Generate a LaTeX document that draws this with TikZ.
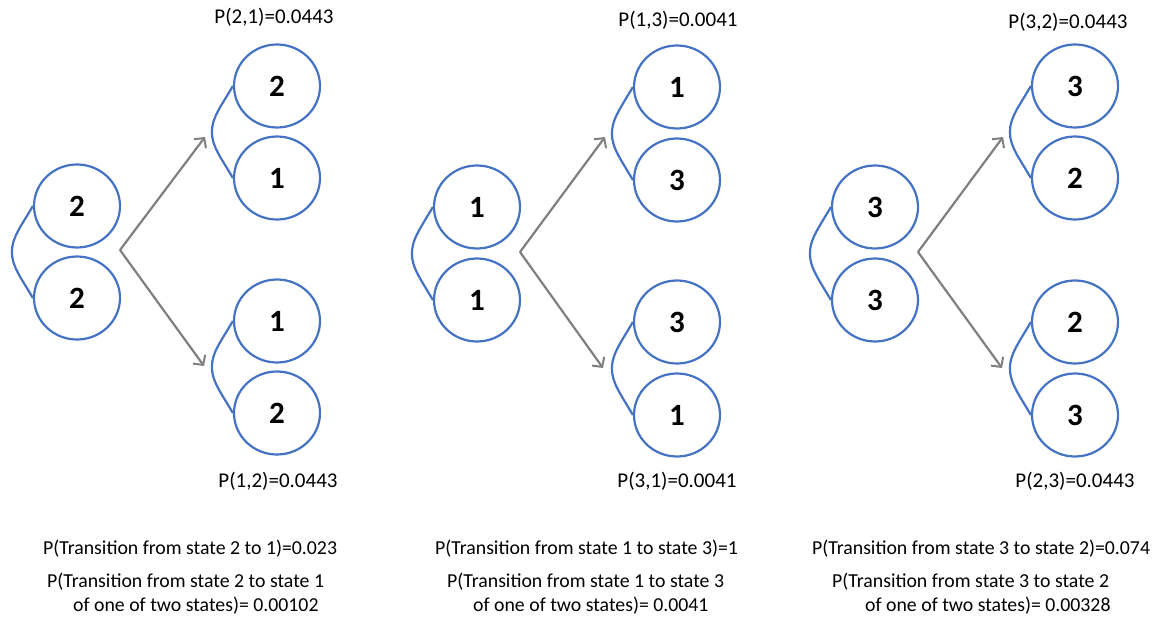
\documentclass[tikz,border=0pt]{standalone}
\usepackage{fontspec}
\setmainfont{Carlito}
\usetikzlibrary{shapes.geometric,arrows.meta,calc}
\definecolor{stateblue}{HTML}{4472C4}
\definecolor{arrowgray}{HTML}{7F7F7F}
\tikzset{
  state/.style={ellipse, draw=stateblue, line width=2.2pt, minimum width=86pt,
    minimum height=83pt, inner sep=0pt, font=\fontsize{31}{34}\selectfont\bfseries},
  bracket/.style={draw=stateblue, line width=2.2pt},
  trans/.style={draw=arrowgray, line width=2.2pt,
    -{Straight Barb[length=7pt,width=15pt,line width=2pt]}},
  prob/.style={font=\fontsize{21}{25}\selectfont, inner sep=0pt},
  note/.style={font=\fontsize{19.8}{24}\selectfont, inner sep=0pt, anchor=west}
}
% two stacked states joined on the left by a curved bracket
\newcommand{\statepair}[6]{%
  \node[state] (#1a) at (#2,#3) {#5};
  \node[state] (#1b) at (#2,#4) {#6};
  \coordinate (#1m) at ($(#1a.west)!0.5!(#1b.west)+(-21,0)$);
  \draw[bracket] (#1a.west) .. controls +(-13,22) and +(0,-14) .. (#1m)
    .. controls +(0,14) and +(-13,-22) .. (#1b.west);
}
\begin{document}
\begin{tikzpicture}[x=1pt,y=-1pt]
\useasboundingbox (0,0) rectangle (1158,623);

% ---- state 2 ----
\statepair{Aleft}{77}{206}{298}{2}{2}
\statepair{Aup}{277}{86}{178}{2}{1}
\statepair{Adown}{277}{321}{413}{1}{2}
\coordinate (Av) at (120,250);
\coordinate (Aut) at (205,137);
\coordinate (Adt) at (204,366);
\draw[trans] (Av) -- (Aut);
\draw[trans] (Av) -- (Adt);
\node[prob] (Aptop) at (274,17) {P(2,1)=0.0443};
\node[prob] (Apbot) at (278,481) {P(1,2)=0.0443};

% ---- state 1 ----
\statepair{Bleft}{477}{207}{300}{1}{1}
\statepair{Bup}{677}{87}{180}{1}{3}
\statepair{Bdown}{677}{322}{415}{3}{1}
\coordinate (Bv) at (520,252);
\coordinate (But) at (605,137);
\coordinate (Bdt) at (603,368);
\draw[trans] (Bv) -- (But);
\draw[trans] (Bv) -- (Bdt);
\node[prob] (Bptop) at (678,20) {P(1,3)=0.0041};
\node[prob] (Bpbot) at (677,481) {P(3,1)=0.0041};

% ---- state 3 ----
\statepair{Cleft}{875}{207}{300}{3}{3}
\statepair{Cup}{1075}{86}{178}{3}{2}
\statepair{Cdown}{1075}{322}{415}{2}{3}
\coordinate (Cv) at (918,252);
\coordinate (Cut) at (1003,137);
\coordinate (Cdt) at (1002,368);
\draw[trans] (Cv) -- (Cut);
\draw[trans] (Cv) -- (Cdt);
\node[prob] (Cptop) at (1068,22) {P(3,2)=0.0443};
\node[prob] (Cpbot) at (1075,481) {P(2,3)=0.0443};

% ---- transition probabilities ----
\node[note] (An1) at (43,549) {P(Transition from state 2 to 1)=0.023};
\node[note] (An2) at (47,582) {P(Transition from state 2 to state 1};
\node[note] (An3) at (73,606) {of one of two states)= 0.00102};

\node[note] (Bn1) at (435,549) {P(Transition from state 1 to state 3)=1};
\node[note] (Bn2) at (447,582) {P(Transition from state 1 to state 3};
\node[note] (Bn3) at (473,606) {of one of two states)= 0.0041};

\node[note] (Cn1) at (812,549) {P(Transition from state 3 to state 2)=0.074};
\node[note] (Cn2) at (832,582) {P(Transition from state 3 to state 2};
\node[note] (Cn3) at (865,606) {of one of two states)= 0.00328};
\end{tikzpicture}
\end{document}
